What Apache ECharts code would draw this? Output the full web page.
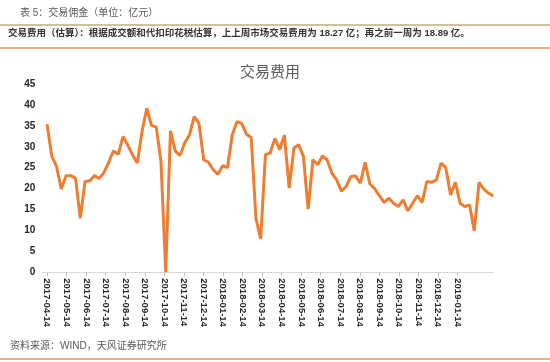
<!DOCTYPE html>
<html>
<head>
<meta charset="utf-8">
<script src="https://cdn.jsdelivr.net/npm/echarts@6/dist/echarts.min.js"></script>
<style>
html,body{margin:0;padding:0;background:#fff;}
#c{width:550px;height:362px;}
</style>
</head>
<body>
<div id="c"></div>
<script>
// weekly series values (亿元), one per week starting 2017-04-14
const feeValues = [
  35.4, 27.7, 25.3, 19.9, 23.1, 23.1, 22.5, 12.9, 21.7, 21.9,
  23.1, 22.4, 23.9, 26.3, 29.0, 28.2, 32.4, 30.4, 28.1, 26.1,
  33.6, 39.2, 35.1, 34.7, 26.5, 0, 33.8, 29.0, 27.9, 30.9,
  32.8, 37.2, 35.6, 26.9, 26.3, 24.5, 23.4, 25.5, 25.0, 32.8,
  36.0, 35.6, 33.0, 32.2, 12.9, 8.0, 28.1, 28.5, 32.0, 29.3,
  32.8, 20.1, 29.7, 30.5, 27.7, 15.1, 26.9, 25.7, 27.8, 26.9,
  23.7, 22.1, 19.4, 20.5, 22.9, 23.0, 21.3, 26.3, 21.1, 20.0,
  18.3, 16.7, 17.7, 16.5, 15.7, 17.3, 14.7, 16.5, 18.3, 16.7,
  21.7, 21.5, 22.1, 26.1, 25.0, 18.5, 21.5, 16.5, 15.7, 16.1,
  9.9, 21.5, 19.9, 18.89, 18.27
];
const tickLabels = [
  '2017-04-14','2017-05-14','2017-06-14','2017-07-14','2017-08-14','2017-09-14',
  '2017-10-14','2017-11-14','2017-12-14','2018-01-14','2018-02-14','2018-03-14',
  '2018-04-14','2018-05-14','2018-06-14','2018-07-14','2018-08-14','2018-09-14',
  '2018-10-14','2018-11-14','2018-12-14','2019-01-14'
];
const yTicks = [0, 5, 10, 15, 20, 25, 30, 35, 40, 45];

const chartTitle = '交易费用';
const headerText = '表 5：交易佣金（单位：亿元）';
const noteText = '交易费用（估算）：根据成交额和代扣印花税估算，上上周市场交易费用为 18.27 亿；再之前一周为 18.89 亿。';
const sourceText = '资料来源：WIND，天风证券研究所';

// label spacing along the week-index axis (layout)
const labelStep = 4.117;
const labelPos = tickLabels.map((_, k) => k * labelStep);

const cjk = '"Liberation Sans", "Noto Sans CJK SC", sans-serif';
const chart = echarts.init(document.getElementById('c'), null, {renderer: 'canvas'});
chart.setOption({
  animation: false,
  backgroundColor: '#ffffff',
  grid: {left: 42.3, right: 56.7, top: 84, bottom: 89.7, containLabel: false},
  xAxis: {
    type: 'value',
    min: -1,
    max: feeValues.length - 1,
    axisLine: {show: true, lineStyle: {color: '#d9d9d9', width: 1}},
    axisTick: {show: true, customValues: labelPos, length: 4, lineStyle: {color: '#bfbfbf'}},
    splitLine: {show: false},
    axisLabel: {
      customValues: labelPos,
      rotate: -90,
      margin: 6,
      fontSize: 9.5,
      fontWeight: 'bold',
      color: '#262626',
      fontFamily: cjk,
      formatter: function (v) {
        const k = Math.round(v / labelStep);
        return tickLabels[k] || '';
      }
    }
  },
  yAxis: {
    type: 'value',
    min: yTicks[0],
    max: yTicks[yTicks.length - 1],
    interval: 5,
    axisLine: {show: false},
    axisTick: {show: false},
    splitLine: {show: false},
    axisLabel: {fontSize: 10, fontWeight: 'bold', color: '#262626', margin: 7, fontFamily: cjk}
  },
  series: [{
    type: 'line',
    data: feeValues.map((v, i) => [i, v]),
    showSymbol: false,
    symbol: 'none',
    lineStyle: {color: '#ED7D31', width: 3},
    itemStyle: {color: '#ED7D31'}
  }],
  graphic: [
    {type: 'text', left: 20, top: 8, style: {text: headerText, fontSize: 10, fill: '#595959', fontFamily: cjk}},
    {type: 'line', shape: {x1: 0, y1: 25, x2: 550, y2: 25}, style: {stroke: '#CDA676', lineWidth: 1.5}},
    {type: 'text', left: 8, top: 29, style: {text: noteText, fontSize: 9.5, fontWeight: 'bold', fill: '#333333', fontFamily: cjk}},
    {type: 'line', shape: {x1: 0, y1: 48, x2: 550, y2: 48}, style: {stroke: '#E8975A', lineWidth: 1.5}},
    {type: 'text', x: 270, y: 73, style: {text: chartTitle, fontSize: 15, fill: '#595959', fontFamily: cjk, align: 'center', verticalAlign: 'middle'}},
    {type: 'text', left: 10, top: 341, style: {text: sourceText, fontSize: 10, fill: '#595959', fontFamily: cjk}},
    {type: 'line', shape: {x1: 0, y1: 359, x2: 550, y2: 359}, style: {stroke: '#E8975A', lineWidth: 1.5}}
  ]
});
</script>
</body>
</html>
